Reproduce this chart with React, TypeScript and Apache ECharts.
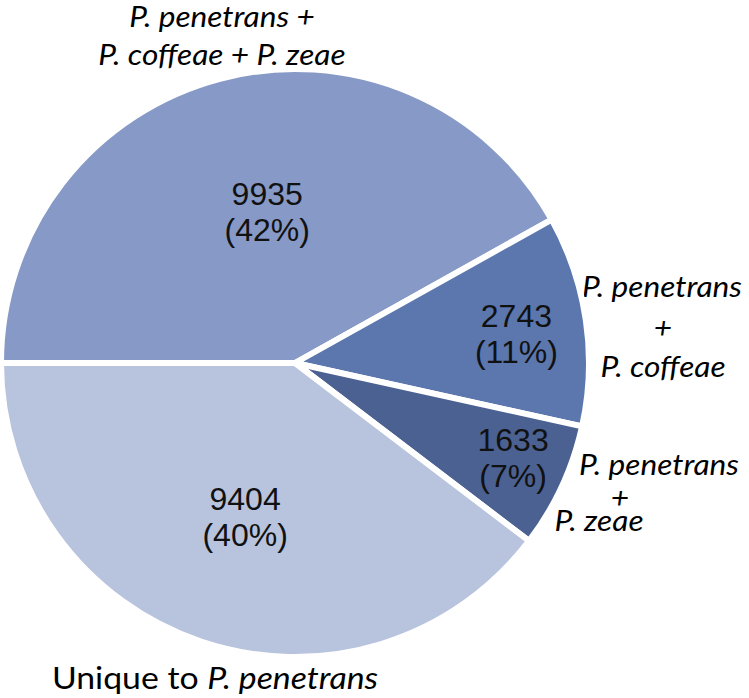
import React, { useEffect, useRef } from 'react';
import * as echarts from 'echarts';

const categories = [
  'P. penetrans + P. coffeae + P. zeae',
  'P. penetrans + P. coffeae',
  'P. penetrans + P. zeae',
  'Unique to P. penetrans',
];
const counts = [9935, 2743, 1633, 9404];
const percentLabels = ['42%', '11%', '7%', '40%'];

const sliceColors = ['#8799c6', '#5b77ae', '#4b6192', '#b8c3de'];
const labelOffsets = [
  [10, -6],
  [73, -7],
  [82, 32],
  [-2, 12],
];

const ITALIC_FONT = 'italic 28px Lato';
const OUTER_SCALE_X = 1.13;

const outerTexts: { text: string; x: number; y: number }[] = [
  { text: 'P. penetrans +', x: 222, y: 16 },
  { text: 'P. coffeae + P. zeae', x: 222, y: 54 },
  { text: 'P. penetrans', x: 662, y: 286 },
  { text: '+', x: 663, y: 327 },
  { text: 'P. coffeae', x: 663, y: 366 },
  { text: 'P. penetrans', x: 659, y: 464 },
  { text: '+', x: 620, y: 497 },
  { text: 'P. zeae', x: 599, y: 520 },
];

export default function App() {
  const ref = useRef<HTMLDivElement>(null);
  useEffect(() => {
    if (!ref.current) return;
    const chart = echarts.init(ref.current, undefined, { renderer: 'svg' });
    const graphics: any[] = outerTexts.map((t) => ({
      type: 'text',
      x: t.x,
      y: t.y,
      scaleX: OUTER_SCALE_X,
      style: {
        text: t.text,
        font: ITALIC_FONT,
        fill: '#000',
        textAlign: 'center',
        textVerticalAlign: 'middle',
      },
    }));
    graphics.push({
      type: 'text',
      x: 215,
      y: 677,
      scaleX: 1.09,
      style: {
        text: '{n|Unique to }{i|P. penetrans}',
        textAlign: 'center',
        textVerticalAlign: 'middle',
        fill: '#000',
        rich: {
          n: { fontFamily: 'Lato', fontSize: 31, fontStyle: 'normal', fill: '#000' },
          i: { fontFamily: 'Lato', fontSize: 31, fontStyle: 'italic', fill: '#000' },
        },
      },
    });
    chart.setOption({
      animation: false,
      backgroundColor: '#ffffff',
      graphic: graphics,
      series: [
        {
          type: 'pie',
          center: [295, 363],
          radius: 294,
          startAngle: 180,
          clockwise: true,
          silent: true,
          itemStyle: { borderColor: '#ffffff', borderWidth: 6 },
          label: {
            show: true,
            position: 'inside',
            fontFamily: 'Liberation Sans',
            fontSize: 32,
            lineHeight: 36,
            color: '#111111',
            formatter: (p: any) => `${counts[p.dataIndex]}\n(${percentLabels[p.dataIndex]})`,
          },
          labelLine: { show: false },
          labelLayout: (p: any) => ({
            dx: labelOffsets[p.dataIndex][0],
            dy: labelOffsets[p.dataIndex][1],
          }),
          data: categories.map((name, i) => ({
            name,
            value: counts[i],
            itemStyle: { color: sliceColors[i] },
          })),
        },
      ],
    });
    return () => chart.dispose();
  }, []);
  return (
    <div
      ref={ref}
      style={{ position: 'absolute', left: 0, top: 0, width: 749, height: 698 }}
    />
  );
}
